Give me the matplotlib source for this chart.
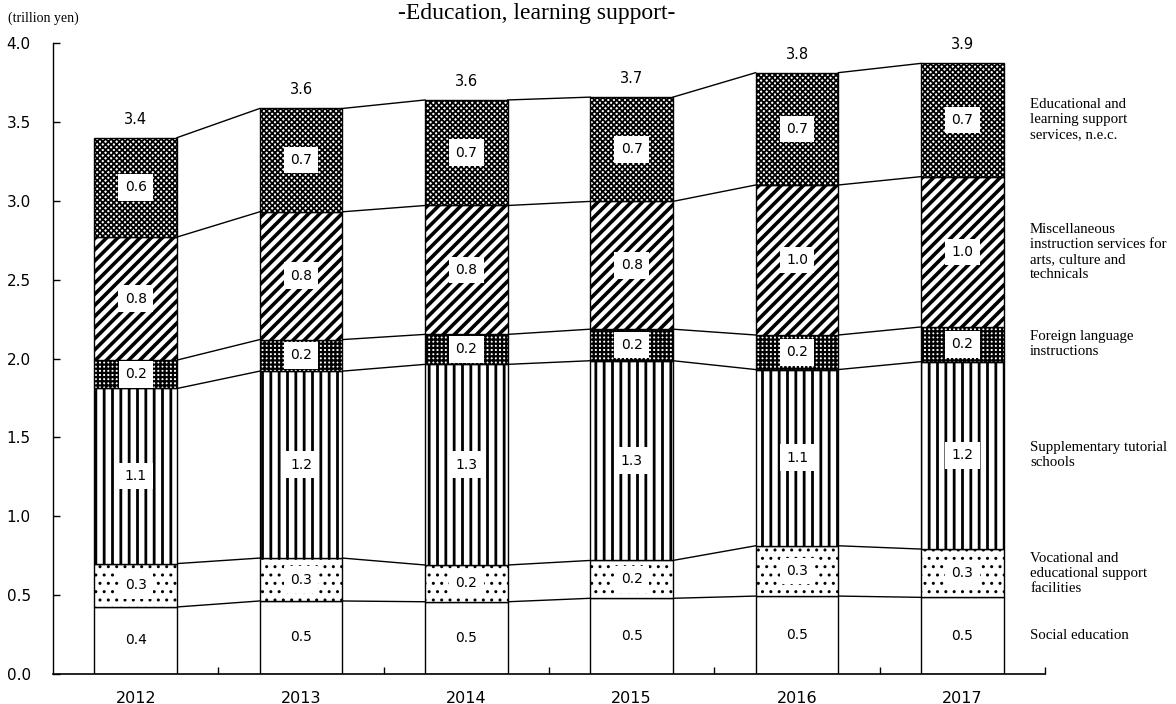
import matplotlib
matplotlib.use("Agg")
import matplotlib.pyplot as plt
import numpy as np

# ===============================
# Data (trillion yen)
# ===============================
years = ["2012", "2013", "2014", "2015", "2016", "2017"]

social_education = [0.425, 0.463, 0.458, 0.48, 0.494, 0.486]
vocational = [0.275, 0.272, 0.233, 0.24, 0.319, 0.306]
tutorial_schools = [1.11, 1.185, 1.272, 1.266, 1.117, 1.188]
foreign_language = [0.18, 0.20, 0.19, 0.20, 0.219, 0.22]
misc_instruction = [0.78, 0.81, 0.817, 0.81, 0.951, 0.953]
learning_nec = [0.63, 0.655, 0.669, 0.661, 0.712, 0.718]

series_names = [
    "Social education",
    "Vocational and\neducational support\nfacilities",
    "Supplementary tutorial\nschools",
    "Foreign language\ninstructions",
    "Miscellaneous\ninstruction services for\narts, culture and\ntechnicals",
    "Educational and\nlearning support\nservices, n.e.c.",
]

series = [social_education, vocational, tutorial_schools,
          foreign_language, misc_instruction, learning_nec]

# hatch pattern + hatch line width per series
hatches = [("", 1.0), ("..", 1.0), ("||", 2.0), ("++++", 1.6), ("///", 2.6), ("xxxxxx", 1.3)]

# ===============================
# Figure
# ===============================
fig = plt.figure(figsize=(11.76, 7.04), dpi=100)
ax = fig.add_axes([0.0451, 0.0426, 0.8435, 0.8963])

x = np.arange(len(years))
width = 0.5
bottom = np.zeros(len(years))
bounds = [bottom.copy()]

for vals, (h, hlw) in zip(series, hatches):
    vals = np.array(vals)
    with plt.rc_context({"hatch.linewidth": hlw, "hatch.color": "black"}):
        bars = ax.bar(x, vals, width, bottom=bottom, color="white",
                      edgecolor="black", linewidth=1.0, hatch=h, zorder=2)
    for b in bars:
        if hasattr(b, "set_hatch_linewidth"):
            b.set_hatch_linewidth(hlw)
    for xi, v, b0 in zip(x, vals, bottom):
        ax.text(xi, b0 + v / 2, f"{v:.1f}", ha="center", va="center",
                fontsize=10, zorder=4,
                bbox=dict(boxstyle="square,pad=0.45", fc="white", ec="none"))
    bottom = bottom + vals
    bounds.append(bottom.copy())

# totals above bars
for xi, tot in zip(x, bottom):
    ax.text(xi, tot + 0.07, f"{tot:.1f}", ha="center", va="bottom", fontsize=10.5)

# connector lines between neighbouring bars
for bnd in bounds[1:]:
    for i in range(len(years) - 1):
        ax.plot([x[i] + width / 2, x[i + 1] - width / 2], [bnd[i], bnd[i + 1]],
                color="black", linewidth=1.0, zorder=1)

# series names on the right, next to the last bar
trans = ax.get_yaxis_transform()
for name, lo, hi in zip(series_names, bounds[:-1], bounds[1:]):
    ax.text(0.985, (lo[-1] + hi[-1]) / 2, name, transform=trans, ha="left",
            va="center", fontsize=10.7, family="Liberation Serif",
            linespacing=1.2, clip_on=False)

# ===============================
# Axes styling
# ===============================
ax.set_xlim(-0.5, len(years) - 0.5)
ax.set_ylim(0, 4.0)
ax.set_yticks(np.arange(0, 4.01, 0.5))
ax.set_yticklabels([f"{v:.1f}" for v in np.arange(0, 4.01, 0.5)], fontsize=11)
ax.tick_params(axis="y", direction="in", length=5, width=1, pad=16)
ax.set_xticks(x)
ax.set_xticklabels(years, fontsize=11.5)
ax.tick_params(axis="x", which="major", length=0, pad=12)
ax.set_xticks(np.arange(0.5, len(years), 1.0), minor=True)
ax.tick_params(axis="x", which="minor", direction="in", length=5, width=1)
ax.spines["top"].set_visible(False)
ax.spines["right"].set_visible(False)
ax.spines["left"].set_linewidth(1)
ax.spines["bottom"].set_linewidth(1.2)

fig.text(8 / 1176, 1 - 18 / 704, "(trillion yen)", family="Liberation Serif",
         fontsize=10, ha="left", va="center")
fig.text(537 / 1176, 1 - 19 / 704, "-Education, learning support-",
         family="Liberation Serif", fontsize=17, ha="center", va="baseline")

fig.savefig("out.png", dpi=100)
